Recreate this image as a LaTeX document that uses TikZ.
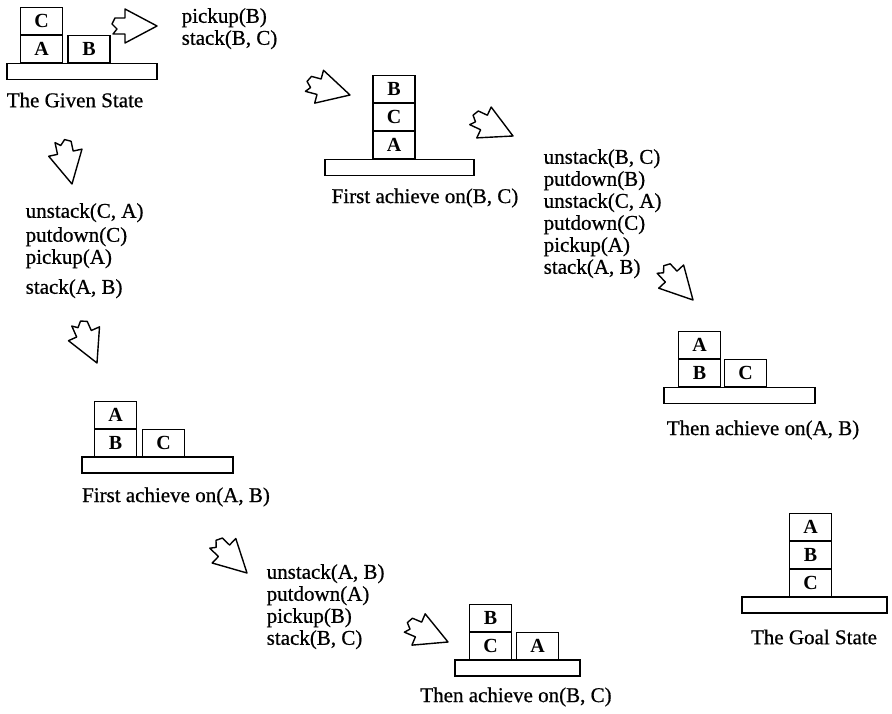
\documentclass[tikz,border=0pt]{standalone}
\usepackage{fontspec}
\setmainfont{Liberation Serif}
\newfontfamily\heavyserif[FakeBold=0.7]{Liberation Serif}
\begin{document}
\begin{tikzpicture}[x=1pt,y=-1pt,line width=1.4pt,
  block/.style={draw, minimum width=42pt, minimum height=27pt, inner sep=0pt,
    font=\fontsize{20}{22}\selectfont\bfseries},
  tablebox/.style={draw, minimum height=16pt, inner sep=0pt},
  lbl/.style={font=\heavyserif\fontsize{21}{22}\selectfont, inner sep=0pt},
  ops/.style={lbl, align=left, anchor=north west},
  pics/barrow/.style={code={
    \draw[line width=1.4pt, line join=round]
      (0,0) -- (-32,17) -- (-32,8) -- (-44,8) -- (-40,3) -- (-45,-2)
      -- (-42,-8) -- (-32,-8) -- (-32,-17) -- cycle;}}]
\useasboundingbox (0,0) rectangle (892,714);

% The Given State
\node[tablebox, minimum width=150pt] (t1) at (82,71.5) {};
\node[block] (g1a) at (41.5,49) {A};
\node[block] (g1c) at (41.5,21) {C};
\node[block] (g1b) at (89,49) {B};
\node[lbl] (l1) at (75,100) {The Given State};

% First achieve on(B, C)
\node[tablebox, minimum width=149pt] (t2) at (399.5,167.5) {};
\node[block] (g2a) at (394,145) {A};
\node[block] (g2c) at (394,117) {C};
\node[block] (g2b) at (394,89) {B};
\node[lbl] (l2) at (425,198) {First achieve on(B, C)};

% Then achieve on(A, B)
\node[tablebox, minimum width=151pt] (t3) at (739.5,395.5) {};
\node[block] (g3b) at (699.5,373) {B};
\node[block] (g3a) at (699.5,345) {A};
\node[block] (g3c) at (745.5,373) {C};
\node[lbl] (l3) at (763,430) {Then achieve on(A, B)};

% First achieve on(A, B)
\node[tablebox, minimum width=151pt] (t4) at (157.5,465) {};
\node[block] (g4b) at (115.5,443) {B};
\node[block] (g4a) at (115.5,415) {A};
\node[block] (g4c) at (163.5,443) {C};
\node[lbl] (l4) at (176,497) {First achieve on(A, B)};

% Then achieve on(B, C)
\node[tablebox, minimum width=125pt] (t5) at (517.5,668) {};
\node[block] (g5c) at (490.5,646) {C};
\node[block] (g5b) at (490.5,618) {B};
\node[block] (g5a) at (537.5,646) {A};
\node[lbl] (l5) at (516,697) {Then achieve on(B, C)};

% The Goal State
\node[tablebox, minimum width=145pt] (t6) at (814.5,605) {};
\node[block] (g6c) at (810.5,583) {C};
\node[block] (g6b) at (810.5,555) {B};
\node[block] (g6a) at (810.5,527) {A};
\node[lbl] (l6) at (814,637) {The Goal State};

% operator lists
\node[ops] (o1) at (181,7.5) {pickup(B)\\stack(B, C)};
\node[ops] (o2) at (25,202.5) {unstack(C, A)\\[2pt]putdown(C)\\pickup(A)\\[8pt]stack(A, B)};
\node[ops] (o3) at (543,148.5) {unstack(B, C)\\putdown(B)\\unstack(C, A)\\putdown(C)\\pickup(A)\\stack(A, B)};
\node[ops] (o4) at (266,563.5) {unstack(A, B)\\putdown(A)\\pickup(B)\\stack(B, C)};

% block arrows
\pic[rotate=0] at (157,26) {barrow};
\pic[rotate=-15] at (350,95) {barrow};
\pic[rotate=-25] at (513,136) {barrow};
\pic[rotate=-47] at (693,300) {barrow};
\pic[rotate=-78] at (72,184) {barrow};
\pic[rotate=-66] at (97,363) {barrow};
\pic[rotate=-44] at (247,573) {barrow};
\pic[rotate=-23] at (448,642) {barrow};
\end{tikzpicture}
\end{document}
